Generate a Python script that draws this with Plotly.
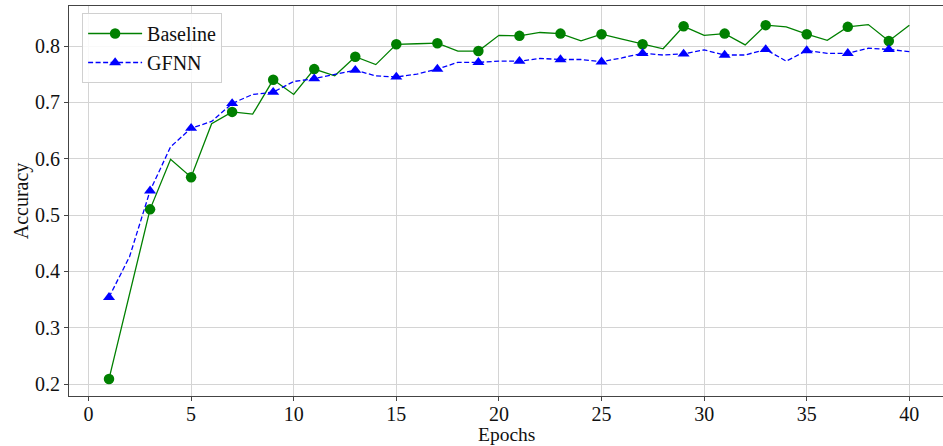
import plotly.graph_objects as go

# Accuracy per epoch for the two models
epochs = list(range(1, 41))
baseline_acc = [
    0.209, 0.360, 0.510, 0.599, 0.567, 0.662, 0.683, 0.679, 0.740, 0.714,
    0.759, 0.747, 0.781, 0.767, 0.803, 0.804, 0.805, 0.791, 0.791, 0.819,
    0.818, 0.824, 0.822, 0.809, 0.821, 0.812, 0.803, 0.795, 0.835, 0.819,
    0.822, 0.802, 0.837, 0.834, 0.821, 0.810, 0.834, 0.838, 0.809, 0.837,
]
gfnn_acc = [
    0.354, 0.426, 0.543, 0.621, 0.654, 0.666, 0.698, 0.714, 0.718, 0.737,
    0.742, 0.749, 0.757, 0.747, 0.745, 0.750, 0.759, 0.771, 0.771, 0.773,
    0.773, 0.778, 0.776, 0.776, 0.772, 0.779, 0.787, 0.784, 0.786, 0.793,
    0.784, 0.784, 0.794, 0.773, 0.792, 0.787, 0.787, 0.796, 0.794, 0.790,
]
x_ticks = [0, 5, 10, 15, 20, 25, 30, 35, 40]
y_ticks = [0.2, 0.3, 0.4, 0.5, 0.6, 0.7, 0.8]

FONT = "Liberation Serif, Times New Roman, serif"
DASH = "5px,2.5px"

fig = go.Figure()

# Markers on every other epoch, the line through all epochs
def add_series(name, y, color, symbol, dash, group):
    fig.add_trace(go.Scatter(
        x=epochs, y=y, mode="lines", name=name,
        line=dict(color=color, width=1.3, dash=dash),
        showlegend=False, legendgroup=group, hoverinfo="skip",
    ))
    fig.add_trace(go.Scatter(
        x=epochs[::2], y=y[::2], mode="markers", name=name,
        marker=dict(color=color, symbol=symbol, size=10.5, line=dict(width=0)),
        showlegend=False, legendgroup=group,
    ))
    # legend entry showing line + marker
    fig.add_trace(go.Scatter(
        x=[None], y=[None], mode="lines+markers", name=name,
        line=dict(color=color, width=1.3, dash=dash),
        marker=dict(color=color, symbol=symbol, size=10.5, line=dict(width=0)),
        legendgroup=group,
    ))

add_series("Baseline", baseline_acc, "#008000", "circle", "solid", "b")
add_series("GFNN", gfnn_acc, "#0000ff", "triangle-up", DASH, "g")

axis_common = dict(
    showgrid=True, gridcolor="#d4d4d4", gridwidth=1,
    showline=True, linecolor="#444444", linewidth=1, mirror=True,
    ticks="outside", ticklen=4, tickcolor="#444444", tickwidth=1,
    tickfont=dict(family=FONT, size=20, color="#111111"),
    zeroline=False,
)

fig.update_layout(
    width=943, height=446,
    margin=dict(l=69, r=0, t=6, b=50),
    paper_bgcolor="white", plot_bgcolor="white",
    font=dict(family=FONT, size=20, color="#111111"),
    xaxis=dict(
        axis_common, range=[-0.95, 41.64], tickvals=x_ticks,
        ticklabelstandoff=-4,
    ),
    yaxis=dict(
        axis_common, range=[0.1787, 0.871], tickvals=y_ticks,
        tickformat=".1f",
        title=dict(text="Accuracy", font=dict(family=FONT, size=20), standoff=1),
    ),
    legend=dict(
        x=0.015, y=0.982, xanchor="left", yanchor="top",
        bgcolor="rgba(255,255,255,0.85)", bordercolor="#d0d0d0", borderwidth=1,
        font=dict(family=FONT, size=20, color="#111111"),
        itemwidth=54, tracegroupgap=0,
    ),
    annotations=[dict(
        text="Epochs", xref="paper", yref="paper", x=0.5, y=-0.067,
        xanchor="center", yanchor="top", showarrow=False,
        font=dict(family=FONT, size=19.5, color="#111111"),
    )],
)

fig.write_html("out.html")
